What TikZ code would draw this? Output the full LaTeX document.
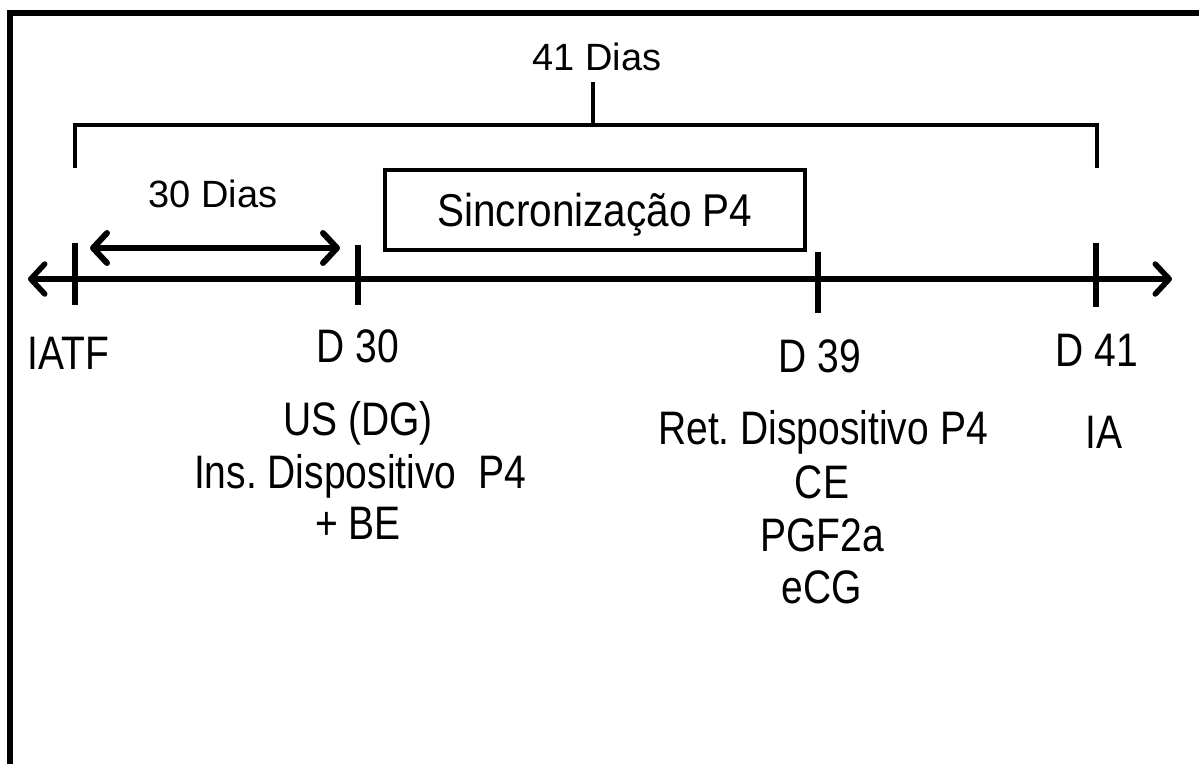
\documentclass[tikz,border=0pt]{standalone}
\usepackage{fontspec}
\setmainfont{Liberation Sans}
\newfontfamily\narrowA[FakeStretch=0.83]{Liberation Sans}
\newfontfamily\narrowB[FakeStretch=0.88]{Liberation Sans}
\usetikzlibrary{arrows.meta}
\tikzset{mybarb/.tip={Straight Barb[length=14pt,width=30pt,line cap=round,line join=round]}}
\frenchspacing
\begin{document}
\begin{tikzpicture}[x=1pt,y=-1pt,
  lbl/.style={font=\narrowA\fontsize{47}{52}\selectfont, inner sep=0pt, anchor=base},
  toplbl/.style={font=\fontsize{38}{42}\selectfont, inner sep=0pt, anchor=base},
  frame/.style={line width=6pt},
  bracket/.style={line width=4.5pt, line join=miter},
  tline/.style={line width=5.5pt},
  tick/.style={line width=5.5pt},
  syncbox/.style={draw, line width=4.5pt, minimum width=420pt, minimum height=80pt,
    inner sep=0pt, text height=33pt, text depth=0pt,
    font=\narrowB\fontsize{46}{50}\selectfont}
]
\useasboundingbox (0,0) rectangle (1199,764);
% frame (left and top edges visible)
\draw[frame] (10,764) -- (10,13) -- (1199,13);

% 41 days bracket
\coordinate (bl) at (75,168);
\coordinate (br) at (1097,168);
\coordinate (bct) at (593,82);
\coordinate (bcb) at (593,125);
\draw[bracket] (bl) -- (75,125) -- (1097,125) -- (br);
\draw[bracket] (bcb) -- (bct);
\node[toplbl] (d41lbl) at (597,70) {41 Dias};

% 30 days
\node[toplbl] (d30lbl) at (213,207) {30 Dias};
\coordinate (daL) at (90,248);
\coordinate (daR) at (340,248);
\draw[line width=6pt, mybarb-mybarb] (daL) -- (daR);

% sync box
\node[syncbox] (sync) at (595,210) {Sincronização P4};

% timeline
\coordinate (tlL) at (28,279);
\coordinate (tlR) at (1172,279);
\draw[tline, mybarb-mybarb] (tlL) -- (tlR);

% ticks
\coordinate (k0a) at (75,243);  \coordinate (k0b) at (75,305);
\coordinate (k1a) at (358,245); \coordinate (k1b) at (358,305);
\coordinate (k2a) at (818,252); \coordinate (k2b) at (818,313);
\coordinate (k3a) at (1096,243);\coordinate (k3b) at (1096,307);
\draw[tick] (k0a) -- (k0b);
\draw[tick] (k1a) -- (k1b);
\draw[tick] (k2a) -- (k2b);
\draw[tick] (k3a) -- (k3b);

% labels
\node[lbl] (iatf) at (68,369) {IATF};
\node[lbl] (d30) at (358,362) {D 30};
\node[lbl] (us) at (358,435) {US (DG)};
\node[lbl] (ins) at (360,488) {Ins. Dispositivo\ \ P4};
\node[lbl] (be) at (358,539) {+ BE};
\node[lbl] (d39) at (820,372) {D 39};
\node[lbl] (ret) at (823,444) {Ret. Dispositivo P4};
\node[lbl] (ce) at (822,498) {CE};
\node[lbl] (pgf) at (822,551) {PGF2a};
\node[lbl] (ecg) at (822,603) {eCG};
\node[lbl] (d41) at (1097,366) {D 41};
\node[lbl] (ia) at (1104,448) {IA};
\end{tikzpicture}
\end{document}
